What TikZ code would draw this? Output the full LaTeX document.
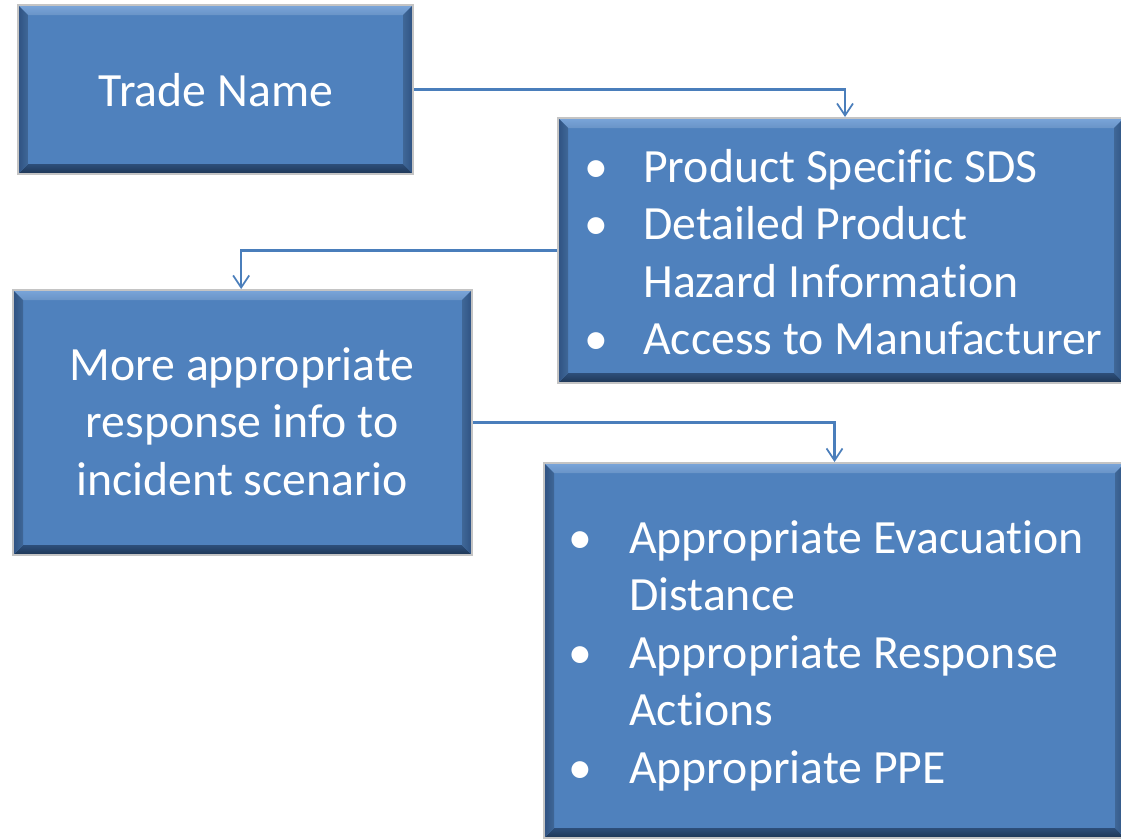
\documentclass[tikz,border=0pt]{standalone}
\usepackage{fontspec}
\setmainfont[Ligatures=NoCommon]{Carlito}
\usetikzlibrary{arrows.meta,fit,calc}
\definecolor{boxblue}{HTML}{4F81BD}
\definecolor{bevlight}{HTML}{A8CAF2}
\definecolor{bevmid}{HTML}{7AA5DA}
\definecolor{bevdark}{HTML}{1D3554}
\definecolor{bevdark2}{HTML}{2D4E7A}
\definecolor{bevside}{HTML}{2F5282}
\definecolor{linkblue}{HTML}{4A7EBB}
\definecolor{rim}{HTML}{C4C4C4}
\tikzset{
  bevelbox/.style={inner sep=0pt, fill=boxblue, draw=rim, line width=1.5pt,
    path picture={
      \path (path picture bounding box.north west) coordinate (pnw)
            (path picture bounding box.north east) coordinate (pne)
            (path picture bounding box.south west) coordinate (psw)
            (path picture bounding box.south east) coordinate (pse);
      \shade[top color=bevmid, middle color=bevlight, bottom color=boxblue!85!white]
        (pnw) -- (pne) -- ([shift={(-7.5pt,-7.5pt)}]pne) -- ([shift={(7.5pt,-7.5pt)}]pnw) -- cycle;
      \shade[top color=bevdark2, bottom color=bevdark]
        (psw) -- (pse) -- ([shift={(-7.5pt,7.5pt)}]pse) -- ([shift={(7.5pt,7.5pt)}]psw) -- cycle;
      \shade[left color=bevside, right color=boxblue!80!black]
        (pnw) -- ([shift={(7.5pt,-7.5pt)}]pnw) -- ([shift={(7.5pt,7.5pt)}]psw) -- (psw) -- cycle;
      \shade[left color=boxblue!80!black, right color=bevside]
        (pne) -- ([shift={(-7.5pt,-7.5pt)}]pne) -- ([shift={(-7.5pt,7.5pt)}]pse) -- (pse) -- cycle;
    }},
  txt/.style={inner sep=0pt, text=white, font=\fontsize{35.8pt}{43.1pt}\selectfont},
  link/.style={draw=linkblue, line width=1.6pt, -{Straight Barb[length=9pt,width=12pt,line width=1.3pt]}}
}
\begin{document}
\begin{tikzpicture}[x=0.75pt,y=-0.75pt]
\useasboundingbox (0,0) rectangle (1121,839);
\fill[white] (0,0) rectangle (1121,839);
% boxes
\node[bevelbox, fit={(18,5) (413,174)}] (A) {};
\node[bevelbox, fit={(558,118) (1124,383)}] (B) {};
\node[bevelbox, fit={(13,290) (472,555)}] (C) {};
\node[bevelbox, fit={(544,463) (1125,838)}] (D) {};
% texts
\node[txt, anchor=base] (At) at (216,106) {Trade Name};
\node[txt, anchor=north west] (Bt) at (584,141.75) {\begin{tabular}{@{}p{44.25pt}@{}l@{}}
•&Product Specific SDS\\
•&Detailed Product\\
 &Hazard Information\\
•&Access to Manufacturer
\end{tabular}};
\node[txt, anchor=north] (Ct) at (242,339.75) {\begin{tabular}{@{}c@{}}
More appropriate\\
response info to\\
incident scenario
\end{tabular}};
\node[txt, anchor=north west] (Dt) at (568,512.75) {\begin{tabular}{@{}p{45.75pt}@{}l@{}}
•&Appropriate Evacuation\\
 &Distance\\
•&Appropriate Response\\
 &Actions\\
•&Appropriate PPE
\end{tabular}};
% connectors
\draw[link] (A.east) -| ([xshift=3pt]B.north);
\draw[link] (B.west) -| ([xshift=-1pt]C.north);
\draw[link] (C.east) -| (D.north);
\end{tikzpicture}
\end{document}
